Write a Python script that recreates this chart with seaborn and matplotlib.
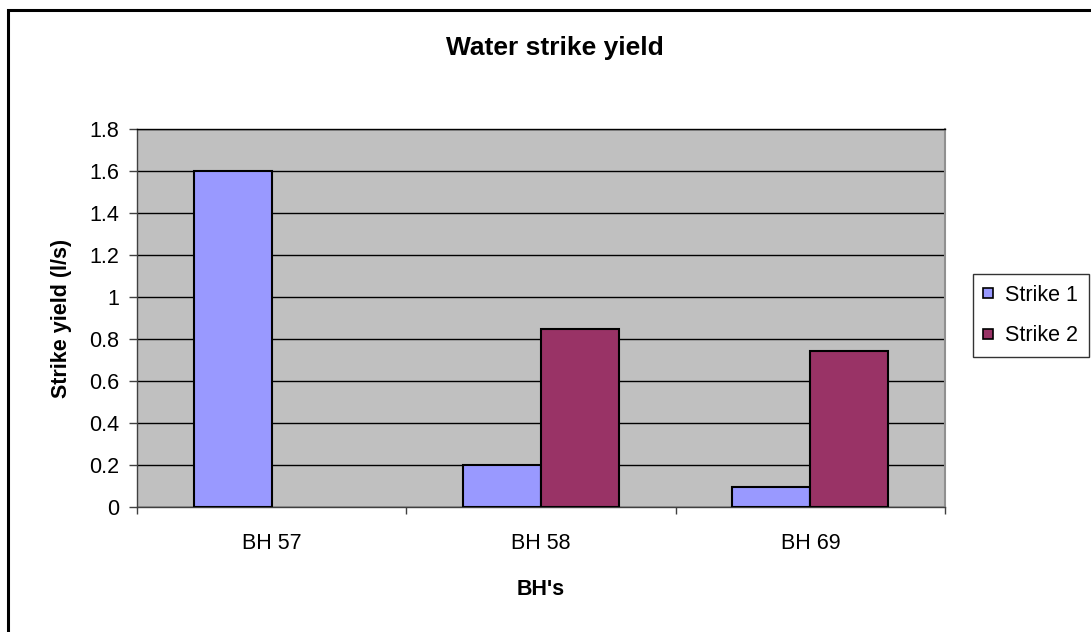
import matplotlib
matplotlib.use("Agg")
import matplotlib.pyplot as plt
import seaborn as sns
import pandas as pd
import numpy as np
from matplotlib.patches import Rectangle
from matplotlib.lines import Line2D

categories = ["BH 57", "BH 58", "BH 69"]
strike1 = [1.6, 0.2, 0.093]
strike2 = [np.nan, 0.85, 0.745]
series_names = ["Strike 1", "Strike 2"]
colors = ["#9999FF", "#993366"]
yticks = [0, 0.2, 0.4, 0.6, 0.8, 1, 1.2, 1.4, 1.6, 1.8]
ytick_labels = ["0", "0.2", "0.4", "0.6", "0.8", "1", "1.2", "1.4", "1.6", "1.8"]

sns.set_style("white")
plt.rcParams['font.family'] = ['Liberation Sans', 'DejaVu Sans']
plt.rcParams['text.color'] = 'black'
plt.rcParams['axes.labelcolor'] = 'black'
plt.rcParams['xtick.color'] = 'black'
plt.rcParams['ytick.color'] = 'black'

df = pd.DataFrame({
    "BH": categories * 2,
    "series": [series_names[0]] * 3 + [series_names[1]] * 3,
    "value": strike1 + strike2,
})

FS = 15.5
W, H = 1091, 632
fig = plt.figure(figsize=(W / 100, H / 100), dpi=100)
ax = fig.add_axes([137 / W, 1 - 507 / H, (945 - 137) / W, (507 - 129) / H])
ax.set_facecolor("#C0C0C0")

sns.barplot(data=df, x="BH", y="value", hue="series", palette=colors,
            saturation=1, width=0.58, gap=0, edgecolor="black", linewidth=1.5,
            errorbar=None, ax=ax, legend=False, zorder=3)

ax.set_ylim(0, 1.8)
ax.set_xlim(-0.5, 2.5)
ax.set_yticks(yticks)
ax.set_yticklabels(ytick_labels, fontsize=FS)
ax.yaxis.grid(True, color="black", linewidth=1, zorder=1)
ax.set_axisbelow(True)
ax.tick_params(axis="y", length=6, width=1, color="#404040", labelcolor="black",
               pad=7, direction="out", left=True)
ax.set_xticks([0, 1, 2])
ax.set_xticklabels(categories, fontsize=FS)
ax.set_xticks([-0.5, 0.5, 1.5, 2.5], minor=True)
ax.tick_params(axis="x", which="major", length=0, pad=19, labelcolor="black")
ax.tick_params(axis="x", which="minor", length=5, width=1, color="#404040", direction="out", bottom=True)

for side in ["left", "bottom"]:
    ax.spines[side].set_color("#404040")
    ax.spines[side].set_linewidth(1)
ax.spines["right"].set_color("#909090")
ax.spines["right"].set_linewidth(1.5)
ax.spines["top"].set_color("black")
ax.spines["top"].set_linewidth(1)

ax.set_xlabel("BH's", fontsize=FS, fontweight="bold", labelpad=18, color="black")
ax.set_ylabel("Strike yield (l/s)", fontsize=FS, fontweight="bold", labelpad=12, color="black")

fig.text(555 / W, 1 - 48 / H, "Water strike yield", ha="center", va="center",
         fontsize=19, fontweight="bold", color="black")

# outer chart border
fig.patches.append(Rectangle((8 / W, -0.05), 1.1, 1 - 10 / H + 0.05,
                             transform=fig.transFigure, fill=False,
                             edgecolor="black", linewidth=2.2))

handles = [Line2D([0], [0], marker="s", linestyle="none", markersize=7.5,
                  markerfacecolor=c, markeredgecolor="black", markeredgewidth=1.2)
           for c in colors]
leg = fig.legend(handles, series_names, loc="upper left",
                 bbox_to_anchor=(973 / W, 1 - 274 / H), fontsize=FS,
                 frameon=True, fancybox=False, edgecolor="black",
                 handlelength=0.4, handletextpad=0.6, borderpad=0.5,
                 labelspacing=0.9, borderaxespad=0)
leg.get_frame().set_linewidth(1)
for t in leg.get_texts():
    t.set_color("black")

fig.savefig("out.png", dpi=100)
